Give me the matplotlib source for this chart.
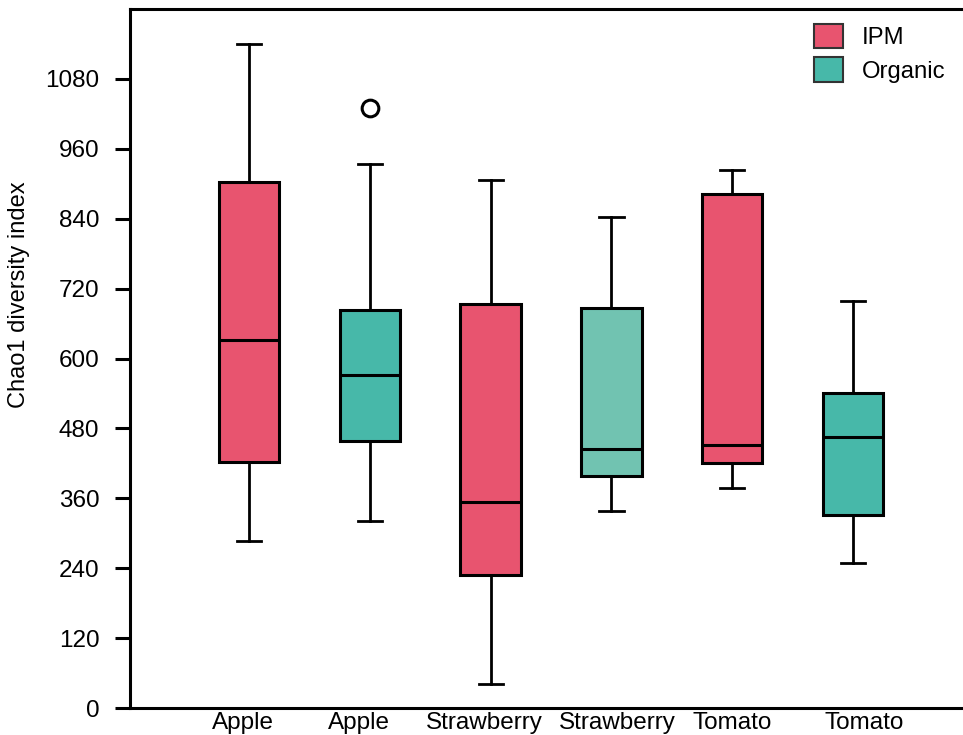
import matplotlib
matplotlib.use("Agg")
import matplotlib.pyplot as plt
from matplotlib.patches import Patch

plt.rcParams["font.family"] = ["Liberation Sans", "DejaVu Sans"]

# Chao1 values
labels = ["Apple", "Apple", "Strawberry", "Strawberry", "Tomato", "Tomato"]
groups = ["IPM", "Organic", "IPM", "Organic", "IPM", "Organic"]
whislo = [286, 321, 42, 339, 377, 249]
q1 = [422, 459, 228, 399, 420, 331]
med = [631, 571, 353, 444, 451, 465]
q3 = [903, 684, 693, 687, 883, 540]
whishi = [1140, 934, 907, 843, 924, 699]
outliers = [[], [1030], [], [], [], []]

box_colors = ["#E8546F", "#47B8A9", "#E8546F", "#71C3B1", "#E8546F", "#47B8A9"]
legend_colors = {"IPM": "#E8546F", "Organic": "#47B8A9"}

stats = []
for i in range(len(labels)):
    stats.append({
        "whislo": whislo[i], "q1": q1[i], "med": med[i],
        "q3": q3[i], "whishi": whishi[i], "fliers": outliers[i],
    })

fig = plt.figure(figsize=(9.63, 7.35), dpi=100)
ax = fig.add_axes([0.135, 0.0367, 0.865, 0.951])

positions = list(range(1, len(labels) + 1))
bp = ax.bxp(
    stats,
    positions=positions,
    widths=0.5,
    patch_artist=True,
    showfliers=True,
    capwidths=0.2,
    boxprops=dict(linewidth=2.2, edgecolor="black"),
    medianprops=dict(color="black", linewidth=2.2),
    whiskerprops=dict(color="black", linewidth=2),
    capprops=dict(color="black", linewidth=2),
    flierprops=dict(marker="o", markersize=12, markerfacecolor="white",
                    markeredgecolor="black", markeredgewidth=2.2),
)
for patch, c in zip(bp["boxes"], box_colors):
    patch.set_facecolor(c)

ax.set_xlim(0.015, 6.91)
ax.set_ylim(0, 1200)
ax.set_yticks(range(0, 1081, 120))
# labels in the original sit slightly off the box centres
label_shift = [-0.05, -0.09, -0.05, 0.05, 0.0, 0.09]
ax.set_xticks([p + d for p, d in zip(positions, label_shift)])
ax.set_xticklabels(labels)

ax.tick_params(axis="y", labelsize=17.5, length=11, width=2.2, pad=11)
ax.tick_params(axis="x", labelsize=17.5, length=0, pad=3)
ax.set_ylabel("Chao1 diversity index", fontsize=17)
ax.yaxis.set_label_coords(-0.12, 0.592)

ax.spines["right"].set_visible(False)
for s in ["left", "top", "bottom"]:
    ax.spines[s].set_linewidth(2.2)

handles = [Patch(facecolor=legend_colors[g], edgecolor="#333333", linewidth=1.5, label=g)
           for g in ["IPM", "Organic"]]
ax.legend(handles=handles, loc="upper right", bbox_to_anchor=(1.005, 1.01),
          frameon=False, fontsize=17.2, handlelength=1.2, handleheight=1.2,
          handletextpad=0.8, labelspacing=0.35)

fig.savefig("out.png", dpi=100)
